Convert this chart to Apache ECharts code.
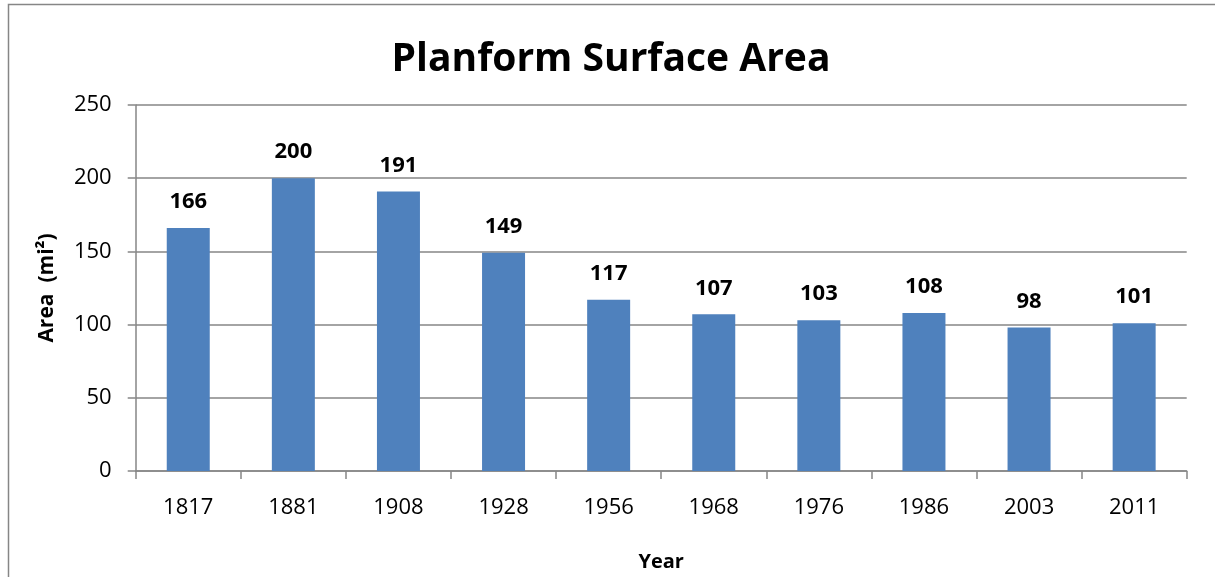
<!DOCTYPE html>
<html><head><meta charset="utf-8">
<script src="https://cdn.jsdelivr.net/npm/echarts@6/dist/echarts.min.js"></script>
<style>html,body{margin:0;padding:0;background:#fff}#c{width:1215px;height:577px}</style>
</head><body><div id="c"></div>
<script>
const categories = ['1817','1881','1908','1928','1956','1968','1976','1986','2003','2011'];
const areaValues = [166, 200, 191, 149, 117, 107, 103, 108, 98, 101];
const yTicks = {min: 0, max: 250, interval: 50};
const titleText = 'Planform Surface Area';
const xTitle = 'Year';
const yTitle = 'Area  (mi²)';

const FONT = 'Open Sans';
const chart = echarts.init(document.getElementById('c'), null, {renderer: 'canvas'});
chart.setOption({
  animation: false,
  backgroundColor: '#fff',
  graphic: [{
    type: 'rect', silent: true,
    shape: {x: 8.5, y: 4.5, width: 1300, height: 700},
    style: {fill: null, stroke: '#868686', lineWidth: 1.5}
  }],
  title: {
    text: titleText, left: 606, top: 55, textAlign: 'center', textVerticalAlign: 'middle',
    textStyle: {fontFamily: FONT, fontWeight: 'bold', fontSize: 39, color: '#000'}
  },
  grid: {left: 135.7, right: 28.3, top: 105, bottom: 106, containLabel: false, outerBoundsMode: 'none'},
  xAxis: {
    type: 'category', data: categories,
    name: xTitle, nameLocation: 'middle', nameGap: 81,
    nameTextStyle: {fontFamily: FONT, fontWeight: 'bold', fontSize: 20, color: '#000'},
    axisLine: {lineStyle: {color: '#868686', width: 1.5}},
    axisTick: {show: true, length: 8, alignWithLabel: false, lineStyle: {color: '#868686', width: 1.5}},
    axisLabel: {fontFamily: FONT, fontSize: 22, color: '#000', margin: 26}
  },
  yAxis: {
    type: 'value', min: yTicks.min, max: yTicks.max, interval: yTicks.interval,
    name: yTitle, nameLocation: 'middle', nameGap: 78, nameRotate: 90,
    nameTextStyle: {fontFamily: FONT, fontWeight: 'bold', fontSize: 21, color: '#000'},
    axisLine: {show: true, lineStyle: {color: '#868686', width: 1.5}},
    axisTick: {show: true, length: 8, inside: false, lineStyle: {color: '#868686', width: 1.5}},
    axisLabel: {fontFamily: FONT, fontSize: 22, color: '#000', margin: 24},
    splitLine: {show: true, lineStyle: {color: '#868686', width: 1.5}}
  },
  series: [{
    type: 'bar', data: areaValues, barWidth: 43,
    itemStyle: {color: '#4F81BD'},
    label: {show: true, position: 'top', distance: 15, fontFamily: FONT, fontWeight: 'bold', fontSize: 22, color: '#000'}
  }]
});
</script></body></html>
